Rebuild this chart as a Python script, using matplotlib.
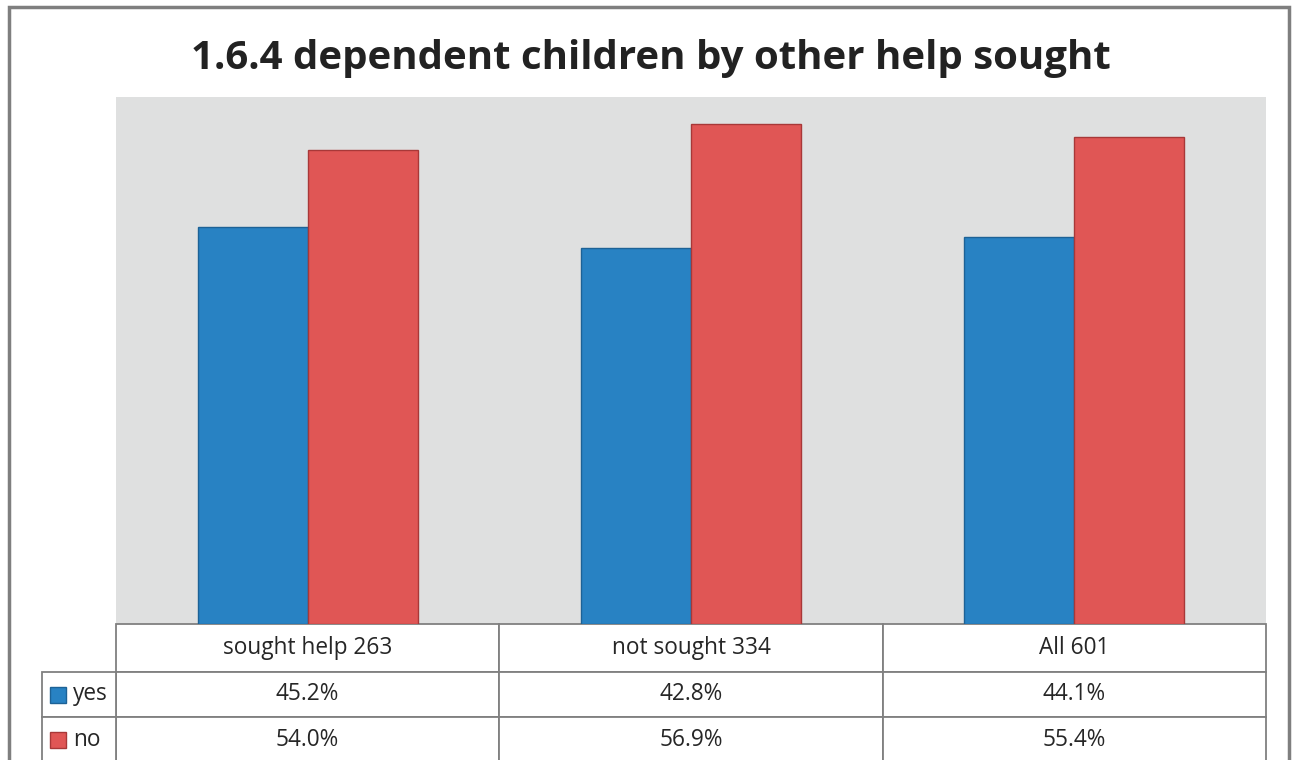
import matplotlib
matplotlib.use("Agg")
import matplotlib.pyplot as plt
from matplotlib.patches import Rectangle
from matplotlib.table import Table
import numpy as np

plt.rcParams['font.family'] = ['Open Sans', 'DejaVu Sans']

title = "1.6.4 dependent children by other help sought"
categories = ["sought help 263", "not sought 334", "All 601"]
series_names = ["yes", "no"]
yes_vals = [45.2, 42.8, 44.1]
no_vals = [54.0, 56.9, 55.4]
colors = ["#2882C3", "#E05655"]
edge_colors = ["#1D6296", "#A83838"]

fig = plt.figure(figsize=(12.97, 7.60), dpi=100)
W, H = 1297, 760
AH = 527
ax = fig.add_axes([116 / W, 136 / H, 1150 / W, AH / H])
ax.set_facecolor("#DFE0E0")

x = np.arange(len(categories))
bw = 0.287
ax.bar(x - bw / 2, yes_vals, bw, color=colors[0], edgecolor=edge_colors[0], linewidth=1.0, zorder=3)
ax.bar(x + bw / 2, no_vals, bw, color=colors[1], edgecolor=edge_colors[1], linewidth=1.0, zorder=3)
ax.set_xlim(-0.5, len(categories) - 0.5)
ax.set_ylim(0, 60)
ax.set_xticks([])
ax.set_yticks([])
for s in ax.spines.values():
    s.set_visible(False)

# data table
hh, rh = 48, 45
tbl_h = (hh + 2 * rh) / AH
lab_w = 74 / 1150
grid = "#808080"
txtc = "#262626"
fs = 16.3

tbl = Table(ax, bbox=[0, -tbl_h, 1, tbl_h])
for j, c in enumerate(categories):
    tbl.add_cell(0, j, 1 / 3, hh, text=c, loc="center", facecolor="white", edgecolor=grid)
rows = [yes_vals, no_vals]
for i, vals in enumerate(rows, start=1):
    for j, v in enumerate(vals):
        tbl.add_cell(i, j, 1 / 3, rh, text=f"{v:.1f}%", loc="center", facecolor="white", edgecolor=grid)

lab = Table(ax, bbox=[-lab_w, -tbl_h, lab_w, 2 * rh / AH])
for i, name in enumerate(series_names):
    lab.add_cell(i, 0, lab_w, rh, text=name, loc="left", facecolor="white", edgecolor=grid)

for t in (tbl, lab):
    t.auto_set_font_size(False)
    t.set_fontsize(fs)
    for (r, c), cell in t.get_celld().items():
        cell.set_linewidth(1.3)
        cell.get_text().set_color(txtc)
    ax.add_table(t)
for (r, c), cell in lab.get_celld().items():
    cell.PAD = 0.42

# legend keys in row-label cells
for i, name in enumerate(series_names):
    yc = -(hh + rh * i + rh / 2) / AH
    ax.add_patch(Rectangle((-lab_w + 8 / 1150, yc - 8 / AH), 16 / 1150, 16 / AH,
                           transform=ax.transAxes, facecolor=colors[i], edgecolor=edge_colors[i],
                           linewidth=1.0, clip_on=False, zorder=5))

# outer border
fig.patches.append(Rectangle((9 / W, -0.05), 1280 / W, 1 - 7 / H + 0.05, transform=fig.transFigure,
                             fill=False, edgecolor="#7F7F7F", linewidth=2.5))

fig.text(651 / W, 1 - 58 / H, title, ha="center", va="center", fontsize=29, fontweight="bold", color="#222222")

fig.savefig("out.png", dpi=100)
